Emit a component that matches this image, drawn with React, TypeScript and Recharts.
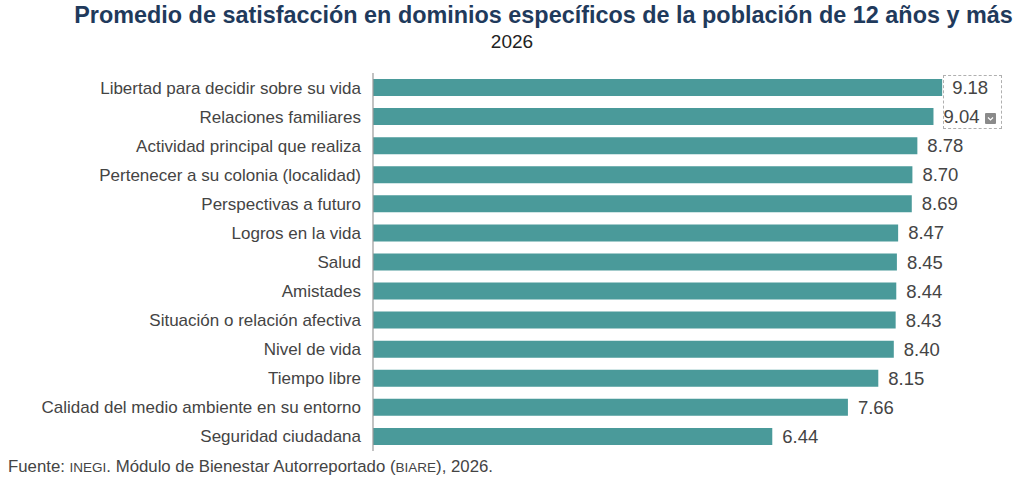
import { Bar, BarChart, LabelList, XAxis, YAxis } from "recharts";

export const dominios = [
    "Libertad para decidir sobre su vida",
    "Relaciones familiares",
    "Actividad principal que realiza",
    "Pertenecer a su colonia (localidad)",
    "Perspectivas a futuro",
    "Logros en la vida",
    "Salud",
    "Amistades",
    "Situación o relación afectiva",
    "Nivel de vida",
    "Tiempo libre",
    "Calidad del medio ambiente en su entorno",
    "Seguridad ciudadana",
];

export const promedios = [9.18, 9.04, 8.78, 8.7, 8.69, 8.47, 8.45, 8.44, 8.43, 8.4, 8.15, 7.66, 6.44];

const data = dominios.map((dominio, i) => ({ dominio, promedio: promedios[i] }));

const textColor = "#444444";
const font = "'Liberation Sans', Arial, sans-serif";

export default function App() {
    return (
        <div
            style={{
                position: "absolute",
                left: 0,
                top: 0,
                width: 1024,
                height: 483,
                background: "#ffffff",
                fontFamily: font,
                overflow: "hidden",
            }}
        >
            <div
                style={{
                    position: "absolute",
                    left: 0,
                    right: 0,
                    top: 2,
                    paddingLeft: 63,
                    textAlign: "center",
                    fontWeight: 700,
                    fontSize: 23.4,
                    color: "#1f3a5c",
                    whiteSpace: "nowrap",
                }}
            >
                Promedio de satisfacción en dominios específicos de la población de 12 años y más
            </div>
            <div
                style={{
                    position: "absolute",
                    left: 0,
                    right: 0,
                    top: 31,
                    textAlign: "center",
                    fontSize: 19,
                    color: "#222222",
                }}
            >
                2026
            </div>

            <div style={{ position: "absolute", left: 0, top: 0 }}>
                <BarChart
                    width={1024}
                    height={483}
                    data={data}
                    layout="vertical"
                    margin={{ top: 73, right: 31, left: 0, bottom: 32 }}
                >
                    <XAxis type="number" domain={[0, 10]} hide />
                    <YAxis
                        type="category"
                        dataKey="dominio"
                        width={373}
                        interval={0}
                        tickLine={false}
                        tickSize={0}
                        tickMargin={12}
                        axisLine={{ stroke: "#9a9a9a", strokeWidth: 1.2 }}
                        tick={{ fill: textColor, fontSize: 17, fontFamily: font }}
                    />
                    <Bar
                        dataKey="promedio"
                        fill="#4a9a9a"
                        barSize={17}
                        isAnimationActive={false}
                    >
                        <LabelList
                            dataKey="promedio"
                            position="right"
                            offset={10}
                            formatter={(v: number) => v.toFixed(2)}
                            style={{ fill: textColor, fontSize: 18.5, fontFamily: font }}
                        />
                    </Bar>
                </BarChart>
            </div>

            {/* selection box left over around the top two labels */}
            <div
                style={{
                    position: "absolute",
                    left: 943,
                    top: 75,
                    width: 59,
                    height: 54,
                    border: "1px dashed #b0b0b0",
                    boxSizing: "border-box",
                }}
            />
            <svg
                width={11}
                height={11}
                style={{ position: "absolute", left: 985, top: 113 }}
            >
                <rect x={0} y={0} width={11} height={11} rx={1} fill="#8a8a8a" />
                <path d="M3 4.5 L5.5 7 L8 4.5" stroke="#ffffff" strokeWidth={1.2} fill="none" />
            </svg>

            <div
                style={{
                    position: "absolute",
                    left: 8,
                    top: 457,
                    fontSize: 16.8,
                    color: textColor,
                    whiteSpace: "nowrap",
                }}
            >
                Fuente: <span style={{ fontSize: 13.5 }}>INEGI</span>. Módulo de Bienestar Autorreportado (
                <span style={{ fontSize: 13.5 }}>BIARE</span>), 2026.
            </div>
        </div>
    );
}
